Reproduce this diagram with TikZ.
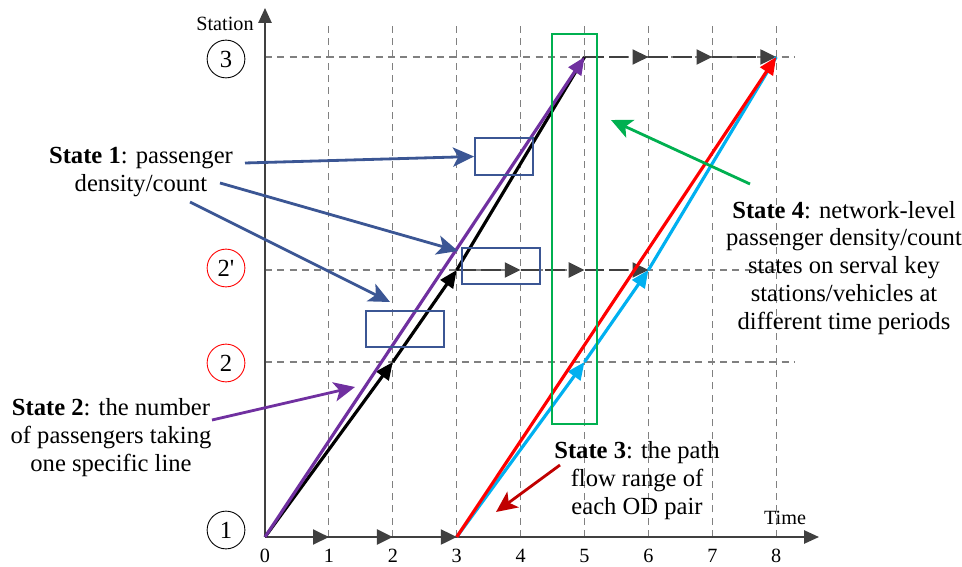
\documentclass[tikz,border=0pt]{standalone}
\usepackage{fontspec}
\setmainfont{Liberation Serif}
\usepackage{tikz}
\usetikzlibrary{positioning, arrows.meta, calc, fit}
\definecolor{axisGray}{HTML}{404040}
\definecolor{gridGray}{HTML}{808080}
\definecolor{pathPurple}{HTML}{7030A0}
\definecolor{pathRed}{HTML}{FF0000}
\definecolor{pathCyan}{HTML}{00B0F0}
\definecolor{stateNavy}{HTML}{3B5694}
\definecolor{stateGreen}{HTML}{00B050}
\definecolor{stateDarkRed}{HTML}{C00000}
\tikzset{
  gridline/.style={draw=gridGray, line width=0.6pt, dash pattern=on 4pt off 3pt},
  axisline/.style={draw=axisGray, line width=1.1pt, -{Triangle[length=8.5pt,width=7.5pt]}},
  waitline/.style={draw=axisGray, line width=1.3pt, dash pattern=on 11pt off 3pt,
    -{Triangle[length=9pt,width=8.5pt]}},
  trip/.style={line width=1.8pt, -{Triangle[length=10pt,width=8.5pt]}},
  callout/.style={line width=1.6pt, -{Stealth[length=12pt,width=11pt,inset=3pt]}},
  stationmark/.style={circle, draw, line width=0.5pt, minimum size=21.5pt, inner sep=0pt,
    font=\fontsize{14}{14}\selectfont},
  statetext/.style={align=center, font=\fontsize{14}{15.9}\selectfont},
  axislabel/.style={font=\fontsize{11.5}{12}\selectfont},
  obsbox/.style={draw=stateNavy, line width=1.1pt, inner sep=0pt},
}

\begin{document}
\begin{tikzpicture}[x=0.02cm, y=-0.02cm]
    \useasboundingbox (0,0) rectangle (962,567);
    % ---- time and station coordinates ----
    \foreach \t in {0,...,8}
      \coordinate (T\t) at ({265+63.9*\t},537);
    \coordinate (S1) at (265,537);
    \coordinate (S2) at (265,362);
    \coordinate (S2p) at (265,270);
    \coordinate (S3) at (265,57);
    \coordinate (gridtop) at (265,23);
    \coordinate (gridend) at (795,537);
    % ---- grid ----
    \foreach \t in {1,...,8}
      \draw[gridline] (T\t) -- (T\t |- gridtop);
    \foreach \s in {S2,S2p,S3}
      \draw[gridline] (\s) -- (\s -| gridend);
    % ---- axes ----
    \coordinate (ytip) at (265,8);
    \coordinate (xtip) at (819,537);
    \draw[axisline] (S1) -- (ytip);
    \draw[axisline] (S1) -- (xtip);
    \node[axislabel] (stationlabel) at (225,24) {Station};
    \node[axislabel] (timelabel) at (785,518) {Time};
    \foreach \t in {0,...,8}
      \node[axislabel] (L\t) at ($(T\t)+(0,19)$) {\t};
    % ---- stations ----
    \node[stationmark] (st3) at (226,59) {3};
    \node[stationmark, draw=pathRed] (st2p) at (226,268) {2\textquotesingle};
    \node[stationmark, draw=pathRed] (st2) at (226,363) {2};
    \node[stationmark] (st1) at (226,530) {1};
    % ---- waiting at stations ----
    \foreach \a/\b in {0/1,1/2,2/3}
      \draw[waitline] (T\a) -- (T\b);
    \foreach \a/\b in {3/4,4/5,5/6}
      \draw[waitline] (T\a |- S2p) -- (T\b |- S2p);
    \foreach \a/\b in {5/6,6/7,7/8}
      \draw[waitline] (T\a |- S3) -- (T\b |- S3);
    % ---- trips ----
    \draw[trip, black] (T0) -- (T2 |- S2);
    \draw[trip, black] (T2 |- S2) -- (T3 |- S2p);
    \draw[line width=1.8pt, black] (T3 |- S2p) -- (T5 |- S3);
    \draw[trip, pathPurple] (T0) -- (T5 |- S3);
    \draw[trip, pathCyan] (T3) -- (T5 |- S2);
    \draw[trip, pathCyan] (T5 |- S2) -- (T6 |- S2p);
    \draw[line width=1.8pt, pathCyan] (T6 |- S2p) -- (T8 |- S3);
    \draw[trip, pathRed] (T3) -- (T8 |- S3);
    % ---- observed states ----
    \node[obsbox, fit={(475,138) (533,175)}] (box1) {};
    \node[obsbox, fit={(462,248) (540,284)}] (box2) {};
    \node[obsbox, fit={(366,311) (444,347)}] (box3) {};
    \node[draw=stateGreen, line width=1.1pt, inner sep=0pt,
      fit={(552,34) (597,424)}] (window) {};
    % ---- state labels ----
    \node[statetext] (state1) at (141,172) {\textbf{State 1}: passenger\\density/count};
    \node[statetext] (state2) at (111,438) {\textbf{State 2}: the number\\of passengers taking\\one specific line};
    \node[statetext] (state3) at (637,481) {\textbf{State 3}: the path\\flow range of\\each OD pair};
    \node[statetext] (state4) at (844,268) {\textbf{State 4}: network-level\\passenger density/count\\states on serval key\\stations/vehicles at\\different time periods};
    % ---- callouts ----
    \coordinate (c1a) at (245,163);
    \coordinate (c1b) at (220,183);
    \coordinate (c1c) at (190,202);
    \coordinate (c1bend) at (458,251);
    \coordinate (c1cend) at (390,302);
    \draw[callout, stateNavy] (c1a) -- (box1.west);
    \draw[callout, stateNavy] (c1b) -- (c1bend);
    \draw[callout, stateNavy] (c1c) -- (c1cend);
    \coordinate (c2) at (212,420);
    \coordinate (c2end) at (355,387);
    \draw[callout, pathPurple] (c2) -- (c2end);
    \coordinate (c3) at (560,465);
    \coordinate (c3end) at (496,512);
    \draw[callout, stateDarkRed] (c3) -- (c3end);
    \coordinate (c4) at (750,184);
    \coordinate (c4end) at (611,120);
    \draw[callout, stateGreen] (c4) -- (c4end);
\end{tikzpicture}
\end{document}
